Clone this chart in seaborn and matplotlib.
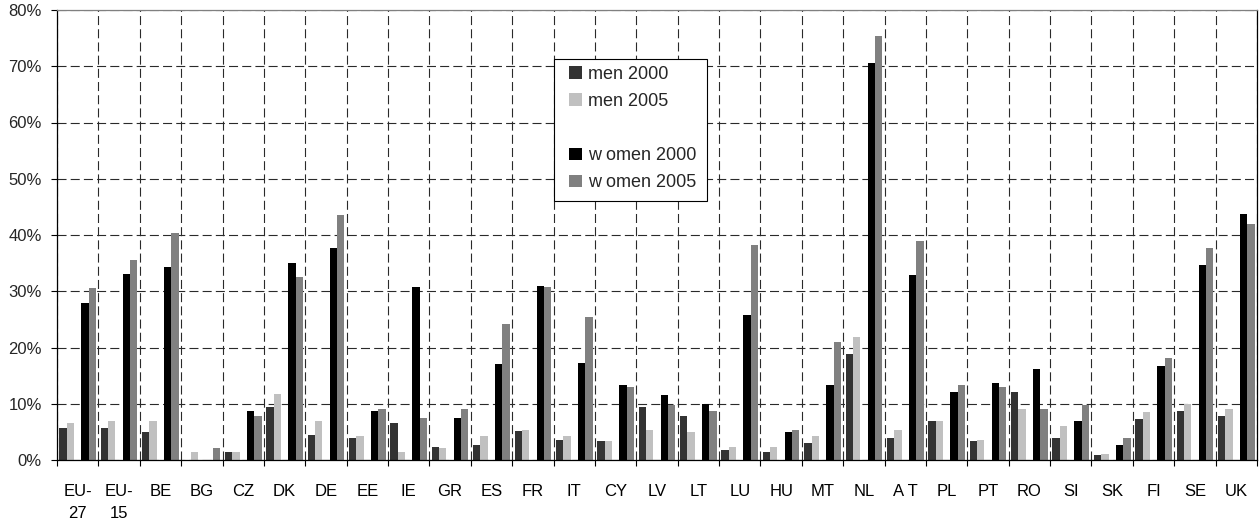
import numpy as np
import pandas as pd
import matplotlib
matplotlib.use("Agg")
import matplotlib.pyplot as plt
from matplotlib.patches import Patch, Rectangle
from matplotlib.ticker import FixedLocator, FuncFormatter
import seaborn as sns

# Share of employees working part-time, by country, sex and year (%)
countries = ["EU-\n27", "EU-\n15", "BE", "BG", "CZ", "DK", "DE", "EE", "IE", "GR",
             "ES", "FR", "IT", "CY", "LV", "LT", "LU", "HU", "MT", "NL",
             "A T", "PL", "PT", "RO", "SI", "SK", "FI", "SE", "UK"]

men_2000 = [5.75, 5.75, 4.9, np.nan, 1.5, 9.5, 4.5, 4.0, 6.6, 2.4,
            2.7, 5.2, 3.6, 3.3, 9.5, 7.9, 1.8, 1.5, 3.1, 18.9,
            4.0, 7.0, 3.3, 12.1, 4.0, 0.9, 7.3, 8.8, 7.9]
men_2005 = [6.6, 7.0, 7.0, 1.5, 1.5, 11.8, 7.0, 4.3, 1.5, 2.2,
            4.3, 5.4, 4.3, 3.3, 5.4, 4.9, 2.4, 2.4, 4.3, 21.9,
            5.4, 7.0, 3.6, 9.1, 6.1, 1.1, 8.6, 10.0, 9.1]
women_2000 = [28.0, 33.1, 34.4, np.nan, 8.8, 35.1, 37.7, 8.8, 30.8, 7.5,
              17.1, 31.0, 17.3, 13.4, 11.6, 10.0, 25.8, 4.9, 13.4, 70.6,
              32.9, 12.1, 13.7, 16.1, 7.0, 2.7, 16.8, 34.7, 43.8]
women_2005 = [30.5, 35.6, 40.4, 2.2, 7.9, 32.6, 43.6, 9.1, 7.5, 9.1,
              24.1, 30.8, 25.5, 13.0, 9.7, 8.8, 38.3, 5.4, 21.0, 75.3,
              39.0, 13.4, 13.0, 9.1, 9.7, 4.0, 18.2, 37.7, 42.0]

series_keys = ["men 2000", "men 2005", "spacer", "women 2000", "women 2005"]
legend_labels = ["men 2000", "men 2005", " ", "w omen 2000", "w omen 2005"]
colors = {"men 2000": "#333333", "men 2005": "#c0c0c0", "spacer": "#ffffff",
          "women 2000": "#000000", "women 2005": "#808080"}
y_ticks = [0, 10, 20, 30, 40, 50, 60, 70, 80]

values = {"men 2000": men_2000, "men 2005": men_2005,
          "spacer": [np.nan] * len(countries),
          "women 2000": women_2000, "women 2005": women_2005}
df = pd.concat(
    [pd.DataFrame({"country": countries, "value": values[k], "series": k})
     for k in series_keys],
    ignore_index=True,
)

sns.set_theme(style="white")
plt.rcParams["font.family"] = ["Liberation Sans", "DejaVu Sans"]
plt.rcParams["lines.scale_dashes"] = False

W, H = 1260, 522
fig = plt.figure(figsize=(W / 100, H / 100), dpi=100)
ax = fig.add_axes([57 / W, 1 - 460 / H, 1200 / W, 450 / H])

sns.barplot(data=df, x="country", y="value", hue="series", order=countries,
            hue_order=series_keys, palette=colors, width=0.886, errorbar=None,
            linewidth=0, legend=False, ax=ax, zorder=2)

ax.set_xlim(-0.5, len(countries) - 0.5)
ax.set_ylim(0, 80)
ax.set_xlabel("")
ax.set_ylabel("")

# grid: horizontal at every 10 %, vertical at category boundaries
ax.set_axisbelow(True)
ax.yaxis.set_major_locator(FixedLocator(y_ticks))
ax.yaxis.set_major_formatter(FuncFormatter(lambda v, _: f"{v:.0f}%"))
ax.xaxis.set_minor_locator(FixedLocator(np.arange(-0.5, len(countries), 1.0)))
grid_style = dict(color="#2a2a2a", linewidth=0.8, linestyle=(0, (6.5, 3)))
ax.grid(axis="y", which="major", **grid_style)
ax.grid(axis="x", which="minor", **grid_style)
ax.grid(axis="x", which="major", visible=False)

ax.tick_params(axis="x", which="major", length=0, pad=17, labelsize=12,
               colors="black")
for lab in ax.get_xticklabels():
    lab.set_linespacing(1.6)
ax.tick_params(axis="x", which="minor", length=4, width=0.8, direction="out",
               color="black", bottom=True)
ax.tick_params(axis="y", which="major", length=4, width=0.8, direction="out",
               color="black", pad=7, labelsize=12, left=True)

for side in ["left", "bottom", "right"]:
    ax.spines[side].set_color("black")
    ax.spines[side].set_linewidth(0.9)
    ax.spines[side].set_visible(True)
ax.spines["top"].set_color("#808080")
ax.spines["top"].set_linewidth(0.9)
ax.spines["top"].set_visible(True)

# legend frame and entries (one empty row between men and women)
fig.patches.append(Rectangle((554 / W, 1 - 201 / H), 153 / W, 142 / H,
                             transform=fig.transFigure, facecolor="white",
                             edgecolor="black", linewidth=0.8, zorder=5))

handles = []
for k in series_keys:
    if k == "spacer":
        handles.append(Patch(facecolor="none", edgecolor="none"))
    else:
        handles.append(Patch(facecolor=colors[k], edgecolor="none"))

leg = fig.legend(handles, legend_labels, loc="upper left",
                 bbox_to_anchor=(569 / W, 1 - 66 / H),
                 bbox_transform=fig.transFigure, frameon=False, fontsize=13,
                 handlelength=0.7, handleheight=0.7, handletextpad=0.35,
                 labelspacing=0.56, borderpad=0, borderaxespad=0)
leg.set_zorder(6)

fig.savefig("out.png", dpi=100)
